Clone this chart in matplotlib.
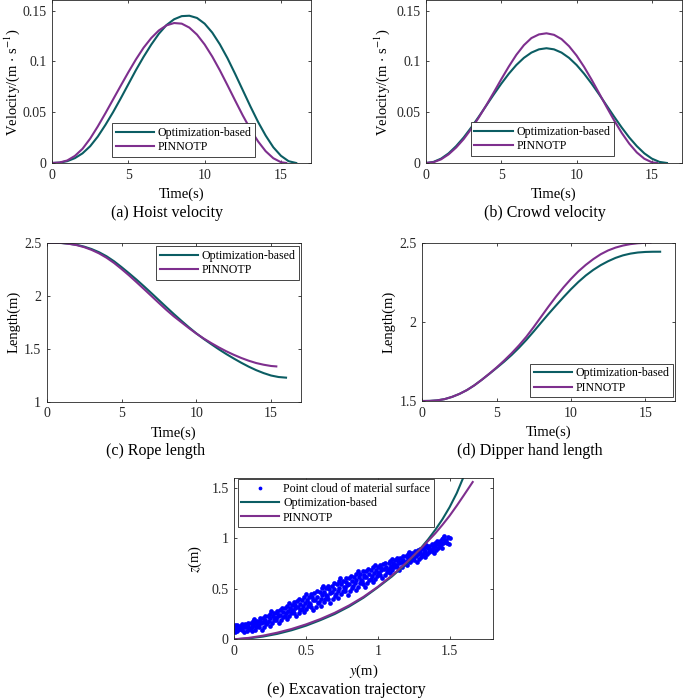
import matplotlib
matplotlib.use('Agg')
import matplotlib.pyplot as plt

plt.rcParams['font.family'] = ['Liberation Serif', 'DejaVu Serif']
plt.rcParams['mathtext.fontset'] = 'stix'

TEAL = '#0b5d63'
PURPLE = '#7e2f8e'
GRAY = '#262626'

# ---------------- data ----------------
t_opt = [0, 0.5, 1, 1.5, 2, 2.5, 3, 3.5, 4, 4.5, 5, 5.5, 6, 6.5, 7, 7.5, 8, 8.5,
         9, 9.5, 10, 10.5, 11, 11.5, 12, 12.5, 13, 13.5, 14, 14.5, 15, 15.5, 16]
t_pin = [0, 0.5, 1, 1.5, 2, 2.5, 3, 3.5, 4, 4.5, 5, 5.5, 6, 6.5, 7, 7.5, 8, 8.5,
         9, 9.5, 10, 10.5, 11, 11.5, 12, 12.5, 13, 13.5, 14, 14.5, 15, 15.35]

hoist_opt = [0, 0.0004, 0.0018, 0.0048, 0.0095, 0.0165, 0.0260, 0.0375, 0.0500,
             0.0635, 0.0775, 0.0915, 0.1045, 0.1165, 0.1272, 0.1358, 0.1415, 0.1446,
             0.1450, 0.1428, 0.1372, 0.1284, 0.1168, 0.1031, 0.0877, 0.0717, 0.0557,
             0.0405, 0.0270, 0.0155, 0.0071, 0.0018, 0]
hoist_pin = [0, 0.0005, 0.0025, 0.0070, 0.0140, 0.0240, 0.0360, 0.0490, 0.0625,
             0.0760, 0.0893, 0.1020, 0.1135, 0.1230, 0.1305, 0.1355, 0.1378, 0.1372,
             0.1333, 0.1264, 0.1167, 0.1048, 0.0912, 0.0765, 0.0615, 0.0468, 0.0332,
             0.0213, 0.0116, 0.0047, 0.0008, 0]

crowd_opt = [0, 0.0011, 0.0043, 0.0095, 0.0166, 0.0251, 0.0349, 0.0455, 0.0565,
             0.0675, 0.0781, 0.0879, 0.0965, 0.1035, 0.1087, 0.1119, 0.1130, 0.1119,
             0.1087, 0.1035, 0.0965, 0.0879, 0.0781, 0.0675, 0.0565, 0.0455, 0.0349,
             0.0251, 0.0166, 0.0095, 0.0043, 0.0011, 0]
crowd_pin = [0, 0.0008, 0.0036, 0.0085, 0.0152, 0.0235, 0.0335, 0.0447, 0.0568,
             0.0695, 0.0825, 0.0950, 0.1065, 0.1160, 0.1230, 0.1266, 0.1277, 0.1262,
             0.1220, 0.1150, 0.1058, 0.0946, 0.0820, 0.0686, 0.0550, 0.0418, 0.0296,
             0.0190, 0.0104, 0.0042, 0.0007, 0]

rope_opt = [2.500, 2.4995, 2.497, 2.490, 2.480, 2.463, 2.440, 2.410, 2.372, 2.325,
            2.270, 2.212, 2.152, 2.089, 2.024, 1.958, 1.892, 1.827, 1.764, 1.703,
            1.645, 1.592, 1.543, 1.495, 1.450, 1.408, 1.368, 1.331, 1.298, 1.270,
            1.247, 1.233, 1.227]
rope_pin = [2.500, 2.4995, 2.497, 2.489, 2.477, 2.458, 2.432, 2.399, 2.358, 2.309,
            2.252, 2.192, 2.128, 2.063, 1.997, 1.931, 1.866, 1.805, 1.750, 1.695,
            1.643, 1.596, 1.553, 1.513, 1.476, 1.443, 1.413, 1.387, 1.365, 1.349,
            1.337, 1.333]

dipper_opt = [1.500, 1.5007, 1.5040, 1.5120, 1.5260, 1.5450, 1.5690, 1.5990, 1.6340,
              1.6710, 1.7090, 1.7480, 1.7900, 1.8360, 1.8860, 1.9400, 1.9960, 2.0510,
              2.1040, 2.1560, 2.2060, 2.2520, 2.2930, 2.3280, 2.3580, 2.3830, 2.4040,
              2.4200, 2.4310, 2.4380, 2.4415, 2.4428, 2.4430]
dipper_pin = [1.500, 1.5007, 1.5040, 1.5120, 1.5260, 1.5450, 1.5690, 1.5990, 1.6340,
              1.6720, 1.7120, 1.7550, 1.8010, 1.8510, 1.9060, 1.9680, 2.0330, 2.0980,
              2.1600, 2.2180, 2.2710, 2.3190, 2.3600, 2.3960, 2.4270, 2.4510, 2.4690,
              2.4820, 2.4910, 2.4965, 2.4992, 2.5000]

traj_opt_y = [0, 0.1, 0.2, 0.3, 0.4, 0.5, 0.6, 0.7, 0.8, 0.9, 1.0, 1.1, 1.2, 1.3,
              1.35, 1.4, 1.45, 1.5, 1.55, 1.6, 1.62]
traj_opt_z = [0, 0.009, 0.027, 0.054, 0.090, 0.135, 0.190, 0.251, 0.325, 0.412, 0.515,
              0.625, 0.752, 0.905, 0.99, 1.085, 1.19, 1.31, 1.45, 1.62, 1.69]
traj_pin_y = [0, 0.1, 0.2, 0.3, 0.4, 0.5, 0.6, 0.7, 0.8, 0.9, 1.0, 1.1, 1.2, 1.3,
              1.4, 1.45, 1.5, 1.55, 1.6, 1.661]
traj_pin_z = [0, 0.014, 0.036, 0.066, 0.103, 0.148, 0.201, 0.263, 0.336, 0.421, 0.521,
              0.635, 0.762, 0.900, 1.050, 1.135, 1.225, 1.325, 1.43, 1.56]

# point cloud of the material surface (y, z), read column by column
cloud_y = [
    0.006, 0.010, 0.002, 0.011, 0.005, 0.008,
    0.022, 0.034, 0.042, 0.027, 0.039, 0.019,
    0.070, 0.054, 0.048, 0.065, 0.061, 0.056,
    0.088, 0.101, 0.081, 0.097, 0.078, 0.093,
    0.126, 0.110, 0.122, 0.131, 0.115, 0.128,
    0.142, 0.154, 0.162, 0.147, 0.159, 0.139,
    0.190, 0.174, 0.168, 0.185, 0.181, 0.176,
    0.208, 0.221, 0.201, 0.217, 0.198, 0.213,
    0.246, 0.230, 0.242, 0.251, 0.235, 0.248,
    0.262, 0.274, 0.282, 0.267, 0.279, 0.259,
    0.310, 0.294, 0.288, 0.305, 0.301, 0.296,
    0.328, 0.341, 0.321, 0.337, 0.318, 0.333,
    0.366, 0.350, 0.362, 0.371, 0.355, 0.368,
    0.382, 0.394, 0.402, 0.387, 0.399, 0.379,
    0.430, 0.414, 0.408, 0.425, 0.421, 0.416,
    0.448, 0.461, 0.441, 0.457, 0.438, 0.453,
    0.486, 0.470, 0.482, 0.491, 0.475, 0.488,
    0.502, 0.514, 0.522, 0.507, 0.519, 0.499,
    0.550, 0.534, 0.528, 0.545, 0.541, 0.536,
    0.568, 0.581, 0.561, 0.577, 0.558, 0.573,
    0.606, 0.590, 0.602, 0.611, 0.595, 0.608,
    0.622, 0.634, 0.642, 0.627, 0.639, 0.619,
    0.670, 0.654, 0.648, 0.665, 0.661, 0.656,
    0.688, 0.701, 0.681, 0.697, 0.678, 0.693,
    0.726, 0.710, 0.722, 0.731, 0.715, 0.728,
    0.742, 0.754, 0.762, 0.747, 0.759, 0.739,
    0.790, 0.774, 0.768, 0.785, 0.781, 0.776,
    0.808, 0.821, 0.801, 0.817, 0.798, 0.813,
    0.846, 0.830, 0.842, 0.851, 0.835, 0.848,
    0.862, 0.874, 0.882, 0.867, 0.879, 0.859,
    0.910, 0.894, 0.888, 0.905, 0.901, 0.896,
    0.928, 0.941, 0.921, 0.937, 0.918, 0.933,
    0.966, 0.950, 0.962, 0.971, 0.955, 0.968,
    0.982, 0.994, 1.002, 0.987, 0.999, 0.979,
    1.030, 1.014, 1.008, 1.025, 1.021, 1.016,
    1.048, 1.061, 1.041, 1.057, 1.038, 1.053,
    1.086, 1.070, 1.082, 1.091, 1.075, 1.088,
    1.102, 1.114, 1.122, 1.107, 1.119, 1.099,
    1.150, 1.134, 1.128, 1.145, 1.141, 1.136,
    1.168, 1.181, 1.161, 1.177, 1.158, 1.173,
    1.206, 1.190, 1.202, 1.211, 1.195, 1.208,
    1.222, 1.234, 1.242, 1.227, 1.239, 1.219,
    1.270, 1.254, 1.248, 1.265, 1.261, 1.256,
    1.288, 1.301, 1.281, 1.297, 1.278, 1.293,
    1.326, 1.310, 1.322, 1.331, 1.315, 1.328,
    1.342, 1.354, 1.362, 1.347, 1.359, 1.339,
    1.390, 1.374, 1.368, 1.385, 1.381, 1.376,
    1.408, 1.421, 1.401, 1.417, 1.398, 1.413,
    1.446, 1.430, 1.442, 1.451, 1.435, 1.448,
    1.460, 1.472, 1.483, 1.495, 1.500, 1.488, 1.465, 1.455,
]
cloud_z = [
    0.074, 0.088, 0.100, 0.112, 0.124, 0.137,
    0.084, 0.098, 0.110, 0.122, 0.135, 0.145,
    0.075, 0.090, 0.104, 0.118, 0.132, 0.147,
    0.082, 0.099, 0.119, 0.134, 0.151, 0.163,
    0.081, 0.103, 0.122, 0.141, 0.160, 0.181,
    0.096, 0.120, 0.142, 0.164, 0.185, 0.204,
    0.093, 0.118, 0.140, 0.163, 0.185, 0.210,
    0.123, 0.147, 0.173, 0.194, 0.216, 0.233,
    0.136, 0.162, 0.184, 0.207, 0.230, 0.254,
    0.163, 0.189, 0.212, 0.235, 0.258, 0.277,
    0.165, 0.190, 0.212, 0.235, 0.257, 0.282,
    0.191, 0.217, 0.245, 0.267, 0.291, 0.309,
    0.204, 0.232, 0.257, 0.281, 0.306, 0.331,
    0.231, 0.261, 0.286, 0.312, 0.337, 0.359,
    0.228, 0.258, 0.284, 0.312, 0.339, 0.368,
    0.259, 0.289, 0.321, 0.347, 0.375, 0.395,
    0.270, 0.303, 0.332, 0.360, 0.389, 0.419,
    0.298, 0.332, 0.362, 0.392, 0.422, 0.448,
    0.290, 0.324, 0.355, 0.387, 0.418, 0.452,
    0.322, 0.356, 0.393, 0.424, 0.456, 0.480,
    0.333, 0.371, 0.404, 0.437, 0.470, 0.505,
    0.366, 0.404, 0.437, 0.470, 0.504, 0.532,
    0.362, 0.398, 0.430, 0.464, 0.496, 0.531,
    0.400, 0.434, 0.470, 0.501, 0.532, 0.556,
    0.414, 0.450, 0.482, 0.513, 0.545, 0.578,
    0.447, 0.483, 0.514, 0.546, 0.577, 0.604,
    0.443, 0.477, 0.508, 0.540, 0.571, 0.605,
    0.480, 0.512, 0.548, 0.577, 0.607, 0.629,
    0.491, 0.526, 0.557, 0.588, 0.618, 0.651,
    0.523, 0.558, 0.588, 0.619, 0.649, 0.675,
    0.520, 0.553, 0.582, 0.613, 0.642, 0.675,
    0.554, 0.586, 0.620, 0.648, 0.677, 0.699,
    0.568, 0.601, 0.630, 0.658, 0.687, 0.717,
    0.601, 0.632, 0.660, 0.688, 0.715, 0.739,
    0.604, 0.633, 0.658, 0.685, 0.711, 0.739,
    0.640, 0.666, 0.695, 0.718, 0.742, 0.761,
    0.656, 0.683, 0.707, 0.731, 0.754, 0.780,
    0.687, 0.713, 0.736, 0.759, 0.782, 0.801,
    0.690, 0.714, 0.736, 0.759, 0.781, 0.805,
    0.720, 0.744, 0.769, 0.790, 0.811, 0.827,
    0.734, 0.759, 0.781, 0.802, 0.824, 0.847,
    0.762, 0.786, 0.808, 0.830, 0.851, 0.870,
    0.764, 0.788, 0.809, 0.831, 0.852, 0.876,
    0.796, 0.818, 0.842, 0.862, 0.882, 0.898,
    0.812, 0.835, 0.855, 0.876, 0.896, 0.917,
    0.843, 0.865, 0.884, 0.903, 0.923, 0.939,
    0.853, 0.873, 0.890, 0.909, 0.927, 0.947,
    0.887, 0.905, 0.925, 0.941, 0.957, 0.970,
    0.910, 0.928, 0.943, 0.959, 0.975, 0.991,
    1.020, 0.985, 0.955, 0.945, 1.000, 1.010, 0.965, 1.005,
]

time_ticks = [0, 5, 10, 15]
labels = ['Optimization-based', 'PINNOTP']
cloud_label = 'Point cloud of material surface'

# ---------------- figure ----------------
fig = plt.figure(figsize=(6.85, 6.99), dpi=100)

ax_a = fig.add_axes([0.0759, 0.7668, 0.3788, 0.2325])
ax_b = fig.add_axes([0.6219, 0.7668, 0.3737, 0.2325])
ax_c = fig.add_axes([0.0682, 0.4253, 0.3712, 0.2275])
ax_d = fig.add_axes([0.6165, 0.4263, 0.3689, 0.2265])
ax_e = fig.add_axes([0.3420, 0.0854, 0.3772, 0.2308])


def style(ax):
    ax.tick_params(direction='in', top=True, right=True, length=2.5, width=0.6,
                   labelsize=10, color=GRAY, labelcolor=GRAY, pad=4)
    for s in ax.spines.values():
        s.set_linewidth(0.6)
        s.set_color(GRAY)


def legend(ax, loc, anchor):
    leg = ax.legend(loc=loc, bbox_to_anchor=anchor, borderaxespad=0, fontsize=8.6,
                    frameon=True, fancybox=False, edgecolor=GRAY, framealpha=1,
                    handlelength=3.2, handletextpad=0.3, borderpad=0.3,
                    labelspacing=0.2, numpoints=1, markerscale=0.8)
    leg.get_frame().set_linewidth(0.6)
    return leg


LW = 1.5
VEL_LABEL = 'Velocity/(m$\\,\\cdot\\,$s$^{-1}$)'

# (a) hoist velocity
ax_a.plot(t_opt, hoist_opt, color=TEAL, lw=LW, label=labels[0])
ax_a.plot(t_pin, hoist_pin, color=PURPLE, lw=LW, label=labels[1])
ax_a.set_xlim(0, 17)
ax_a.set_ylim(0, 0.16)
ax_a.set_xticks(time_ticks)
ax_a.set_yticks([0, 0.05, 0.1, 0.15])
ax_a.set_yticklabels(['0', '0.05', '0.1', '0.15'])
ax_a.set_xlabel('Time(s)', fontsize=10.5)
ax_a.set_ylabel(VEL_LABEL, fontsize=10.5)
style(ax_a)
legend(ax_a, 'lower left', (0.232, 0.037))

# (b) crowd velocity
ax_b.plot(t_opt, crowd_opt, color=TEAL, lw=LW, label=labels[0])
ax_b.plot(t_pin, crowd_pin, color=PURPLE, lw=LW, label=labels[1])
ax_b.set_xlim(0, 17)
ax_b.set_ylim(0, 0.16)
ax_b.set_xticks(time_ticks)
ax_b.set_yticks([0, 0.05, 0.1, 0.15])
ax_b.set_yticklabels(['0', '0.05', '0.1', '0.15'])
ax_b.set_xlabel('Time(s)', fontsize=10.5)
ax_b.set_ylabel(VEL_LABEL, fontsize=10.5)
style(ax_b)
legend(ax_b, 'lower left', (0.175, 0.043))

# (c) rope length
ax_c.plot(t_opt, rope_opt, color=TEAL, lw=LW, label=labels[0])
ax_c.plot(t_pin, rope_pin, color=PURPLE, lw=LW, label=labels[1])
ax_c.set_xlim(0, 17)
ax_c.set_ylim(1, 2.5)
ax_c.set_xticks(time_ticks)
ax_c.set_yticks([1, 1.5, 2, 2.5])
ax_c.set_yticklabels(['1', '1.5', '2', '2.5'])
ax_c.set_xlabel('Time(s)', fontsize=10.5)
ax_c.set_ylabel('Length(m)', fontsize=10.5)
style(ax_c)
legend(ax_c, 'upper right', (0.992, 0.977))

# (d) dipper hand length
ax_d.plot(t_opt, dipper_opt, color=TEAL, lw=LW, label=labels[0])
ax_d.plot(t_pin, dipper_pin, color=PURPLE, lw=LW, label=labels[1])
ax_d.set_xlim(0, 17)
ax_d.set_ylim(1.5, 2.5)
ax_d.set_xticks(time_ticks)
ax_d.set_yticks([1.5, 2, 2.5])
ax_d.set_yticklabels(['1.5', '2', '2.5'])
ax_d.set_xlabel('Time(s)', fontsize=10.5)
ax_d.set_ylabel('Length(m)', fontsize=10.5)
style(ax_d)
legend(ax_d, 'lower right', (0.993, 0.023))

# (e) excavation trajectory
ax_e.plot(cloud_y, cloud_z, linestyle='none', marker='o', ms=3.4, mew=0,
          color='#0000ff', label=cloud_label)
ax_e.plot(traj_opt_y, traj_opt_z, color=TEAL, lw=LW, label=labels[0])
ax_e.plot(traj_pin_y, traj_pin_z, color=PURPLE, lw=LW, label=labels[1])
ax_e.set_xlim(0, 1.8)
ax_e.set_ylim(0, 1.6)
ax_e.set_xticks([0, 0.5, 1, 1.5])
ax_e.set_xticklabels(['0', '0.5', '1', '1.5'])
ax_e.set_yticks([0, 0.5, 1, 1.5])
ax_e.set_yticklabels(['0', '0.5', '1', '1.5'])
ax_e.set_xlabel('$y$(m)', fontsize=10.5)
ax_e.set_ylabel('$z$(m)', fontsize=10.5)
style(ax_e)
legend(ax_e, 'upper left', (0.013, 0.992))

# label positions (axes fraction)
for ax, lx in [(ax_a, -0.154), (ax_b, -0.173), (ax_c, -0.129), (ax_d, -0.132), (ax_e, -0.152)]:
    ax.yaxis.set_label_coords(lx, 0.5)
    ax.yaxis.label.set_va('center')
for ax, ly in [(ax_a, -0.19), (ax_b, -0.19), (ax_c, -0.199), (ax_d, -0.2), (ax_e, -0.2)]:
    ax.xaxis.set_label_coords(0.5, ly)
    ax.xaxis.label.set_va('center')

# captions
cap_fs = 11.5
fig.text(0.2438, 0.6953, '(a) Hoist velocity', ha='center', va='center', fontsize=cap_fs)
fig.text(0.7956, 0.6953, '(b) Crowd velocity', ha='center', va='center', fontsize=cap_fs)
fig.text(0.2277, 0.3548, '(c) Rope length', ha='center', va='center', fontsize=cap_fs)
fig.text(0.7737, 0.3548, '(d) Dipper hand length', ha='center', va='center', fontsize=cap_fs)
fig.text(0.5051, 0.0129, '(e) Excavation trajectory', ha='center', va='center', fontsize=cap_fs)

fig.savefig('out.png', dpi=100)
